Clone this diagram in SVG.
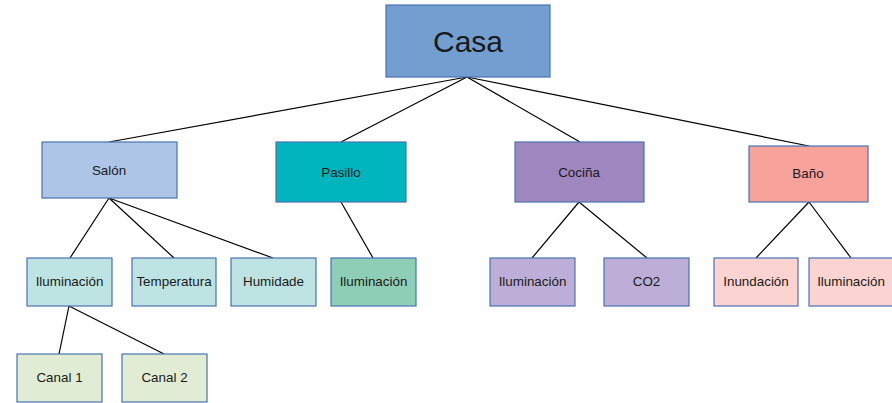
<svg xmlns="http://www.w3.org/2000/svg" width="892" height="403" viewBox="0 0 892 403">
<style>
rect{stroke:#4a72b0;stroke-width:1.2}
text{font-family:"Liberation Sans",Arial,sans-serif;font-size:13.4px;fill:#1a1a1a;text-anchor:middle}
#connectors line{stroke:#000;stroke-width:1.2}
</style>
<rect x="0" y="0" width="892" height="403" fill="#fff" style="stroke:none"/>
<g id="connectors">
<line x1="467" y1="77" x2="109" y2="142"/>
<line x1="467" y1="77" x2="341" y2="142"/>
<line x1="467" y1="77" x2="580" y2="142"/>
<line x1="467" y1="77" x2="809" y2="146"/>
<line x1="109" y1="198" x2="70" y2="258"/>
<line x1="109" y1="198" x2="174" y2="258"/>
<line x1="109" y1="198" x2="273" y2="258"/>
<line x1="341" y1="202" x2="373" y2="258"/>
<line x1="579" y1="202" x2="532" y2="258"/>
<line x1="579" y1="202" x2="647" y2="258"/>
<line x1="809" y1="202" x2="756" y2="258"/>
<line x1="809" y1="202" x2="851" y2="258"/>
<line x1="69" y1="306" x2="59" y2="354"/>
<line x1="69" y1="306" x2="164" y2="354"/>
</g>
<g id="casa"><rect x="386" y="5" width="164" height="72" fill="#729fcf"/><text x="468" y="51.5" style="font-size:30px">Casa</text></g>
<g id="salon"><rect x="42" y="142" width="135" height="56" fill="#adc5e7"/><text x="109" y="175">Salón</text></g>
<g id="pasillo"><rect x="276" y="142" width="130" height="60" fill="#00b5bd"/><text x="341" y="177">Pasillo</text></g>
<g id="cocina"><rect x="515" y="142" width="129" height="60" fill="#9e86bf"/><text x="579" y="177">Cociña</text></g>
<g id="bano"><rect x="749" y="146" width="119" height="56" fill="#f7a29b"/><text x="808" y="178">Baño</text></g>
<g id="salon-iluminacion"><rect x="27" y="258" width="85" height="48" fill="#bde3e2"/><text x="69.5" y="286">Iluminación</text></g>
<g id="temperatura"><rect x="132" y="258" width="84" height="48" fill="#bde3e2"/><text x="174" y="286">Temperatura</text></g>
<g id="humidade"><rect x="231" y="258" width="85" height="48" fill="#bde3e2"/><text x="273.5" y="286">Humidade</text></g>
<g id="pasillo-iluminacion"><rect x="331" y="258" width="85" height="48" fill="#8fceb6"/><text x="373.5" y="286">Iluminación</text></g>
<g id="cocina-iluminacion"><rect x="490" y="258" width="85" height="48" fill="#bcaed6"/><text x="532.5" y="286">Iluminación</text></g>
<g id="co2"><rect x="604" y="258" width="85" height="48" fill="#bcaed6"/><text x="646.5" y="286">CO2</text></g>
<g id="inundacion"><rect x="714" y="258" width="84" height="48" fill="#fbd4d1"/><text x="756" y="286">Inundación</text></g>
<g id="bano-iluminacion"><rect x="809" y="258" width="85" height="48" fill="#fbd4d1"/><text x="851" y="286">Iluminación</text></g>
<g id="canal1"><rect x="17" y="354" width="85" height="48" fill="#e0edd4"/><text x="59.5" y="382">Canal 1</text></g>
<g id="canal2"><rect x="122" y="354" width="85" height="48" fill="#e0edd4"/><text x="164.5" y="382">Canal 2</text></g>
</svg>
